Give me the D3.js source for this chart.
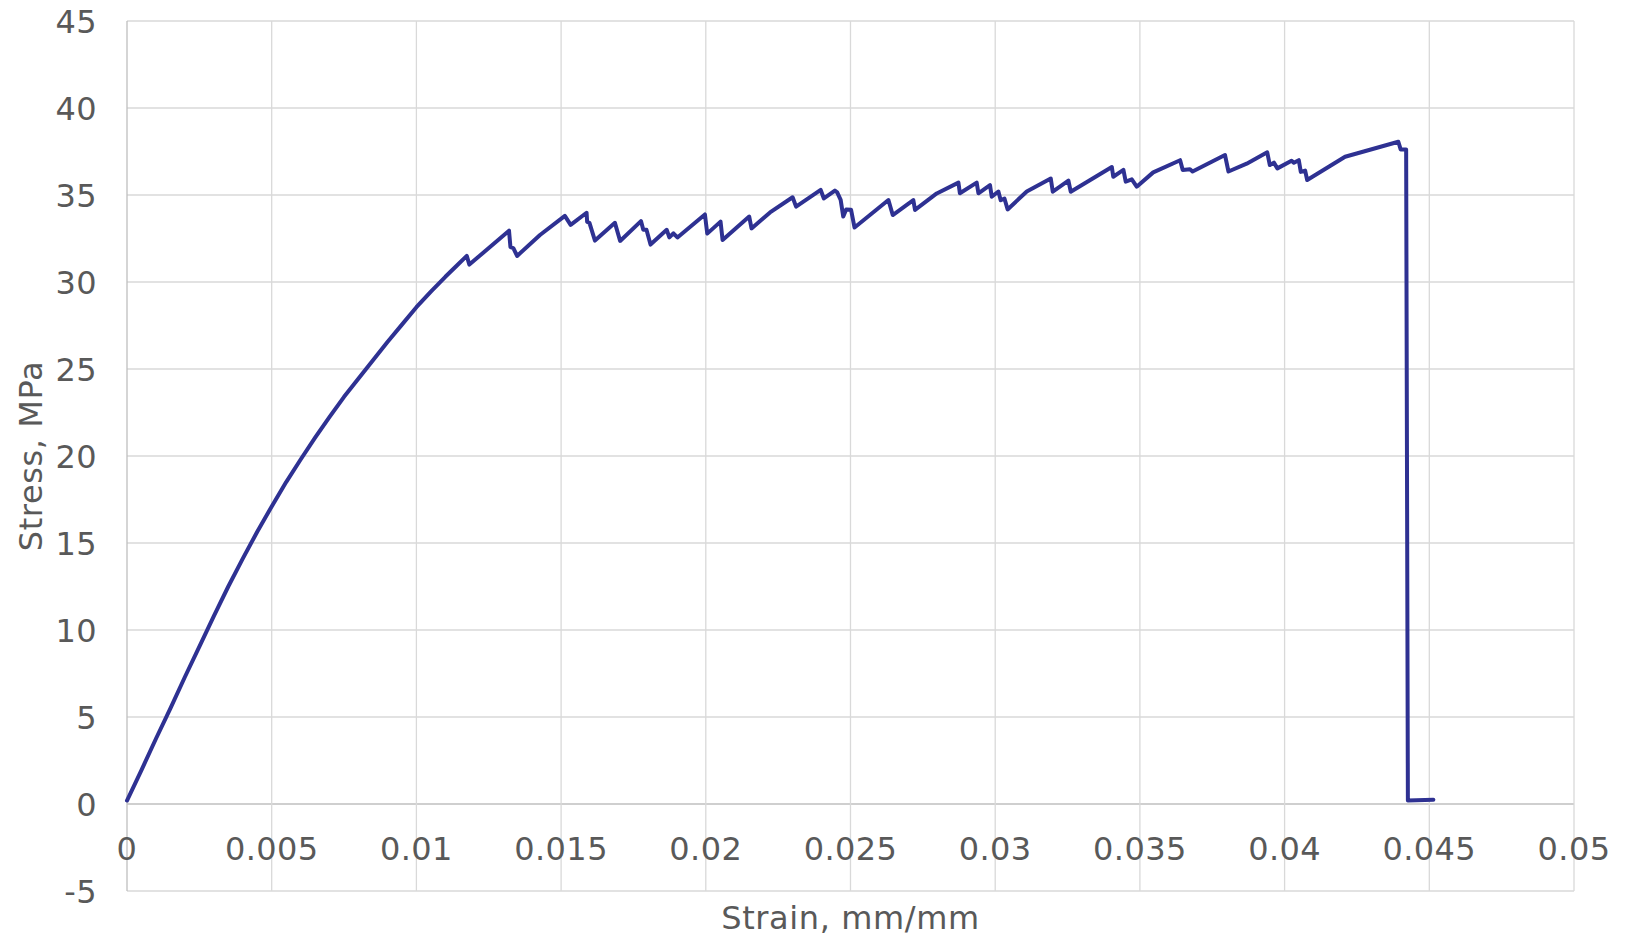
<!DOCTYPE html>
<html>
<head>
<meta charset="utf-8">
<script src="https://cdn.jsdelivr.net/npm/d3@7"></script>
<style>
  html, body { margin: 0; padding: 0; background: #ffffff; }
  svg { display: block; }
</style>
</head>
<body>
<svg id="chart" width="1631" height="938"></svg>
<script>
// ---- data ----
const strain = [
  0, 0.0005, 0.001, 0.0015, 0.002, 0.0025, 0.003, 0.0035, 0.004, 0.0045, 0.005,
  0.0055, 0.006, 0.0065, 0.007, 0.0075, 0.008, 0.0085, 0.009, 0.0095, 0.010,
  0.0105, 0.011, 0.0114,
  0.01174, 0.01183,
  0.0132, 0.01325, 0.01335, 0.01348,
  0.01427, 0.01513, 0.01533, 0.01588, 0.0159, 0.01598, 0.01617,
  0.01686, 0.01704,
  0.01776, 0.01784, 0.01795, 0.01809,
  0.01865, 0.01874, 0.01888, 0.01902,
  0.01997, 0.02005,
  0.02051, 0.02058,
  0.0215, 0.02158,
  0.02222, 0.023, 0.02312,
  0.02397, 0.02408,
  0.02446, 0.02454, 0.02466, 0.02475, 0.02485, 0.02502, 0.02514,
  0.02631, 0.02646,
  0.02717, 0.02723,
  0.02798, 0.02873, 0.02878,
  0.02936, 0.02942,
  0.02982, 0.02988, 0.03011, 0.03019, 0.03032, 0.03043,
  0.03109, 0.03192, 0.03199,
  0.03253, 0.03261,
  0.03403, 0.03408, 0.03443, 0.03451, 0.03472, 0.03489,
  0.03546, 0.03639, 0.03648, 0.03673, 0.03682,
  0.03794, 0.03806,
  0.03869, 0.0394, 0.03949, 0.03963, 0.03975,
  0.04024, 0.04032, 0.04049, 0.04056, 0.04071, 0.04078,
  0.04209, 0.04295, 0.04393, 0.04401, 0.0442, 0.04426,
  0.04514
];
const stress = [
  0.2, 1.95, 3.75, 5.5, 7.3, 9.05, 10.8, 12.5, 14.1, 15.65, 17.1,
  18.5, 19.8, 21.05, 22.25, 23.4, 24.45, 25.5, 26.55, 27.55, 28.55,
  29.45, 30.3, 30.95,
  31.5, 31.0,
  32.95, 32.0, 31.95, 31.5,
  32.7, 33.8, 33.28, 33.98, 33.45, 33.4, 32.38,
  33.4, 32.36,
  33.5, 33.0, 33.0, 32.15,
  33.0, 32.56, 32.8, 32.56,
  33.88, 32.78,
  33.47, 32.41,
  33.76, 33.08,
  34.0, 34.87, 34.33,
  35.29, 34.8,
  35.25, 35.15, 34.72, 33.76, 34.17, 34.15, 33.13,
  34.71, 33.85,
  34.71, 34.14,
  35.09, 35.71, 35.1,
  35.71, 35.1,
  35.57, 34.9, 35.2, 34.7, 34.8, 34.17,
  35.2, 35.95, 35.19,
  35.82, 35.19,
  36.61, 36.05, 36.44, 35.77, 35.9, 35.48,
  36.3, 37.0, 36.44, 36.48, 36.35,
  37.3, 36.35,
  36.8, 37.45, 36.72, 36.86, 36.53,
  36.97, 36.85, 37.0, 36.33, 36.4, 35.86,
  37.2, 37.6, 38.06, 37.62, 37.62, 0.2,
  0.25
];
const xTicks = [0, 0.005, 0.01, 0.015, 0.02, 0.025, 0.03, 0.035, 0.04, 0.045, 0.05];
const xTickLabels = ["0", "0.005", "0.01", "0.015", "0.02", "0.025", "0.03", "0.035", "0.04", "0.045", "0.05"];
const yTicks = [-5, 0, 5, 10, 15, 20, 25, 30, 35, 40, 45];
const yTickLabels = ["-5", "0", "5", "10", "15", "20", "25", "30", "35", "40", "45"];
const xTitle = "Strain, mm/mm";
const yTitle = "Stress, MPa";

// ---- layout ----
const svg = d3.select("#chart");
const mLeft = 127, mRight = 1574, mTop = 21, mBottom = 891;
const x = d3.scaleLinear().domain([0, 0.05]).range([mLeft, mRight]);
const y = d3.scaleLinear().domain([-5, 45]).range([mBottom, mTop]);
const font = "'DejaVu Sans', Verdana, sans-serif";
const textColor = "#595959";
const fs = 32;

// gridlines
const grid = svg.append("g");
grid.selectAll("line.h").data(yTicks).enter().append("line")
  .attr("x1", mLeft).attr("x2", mRight)
  .attr("y1", d => y(d)).attr("y2", d => y(d))
  .attr("stroke", d => d === 0 ? "#bfbfbf" : "#d9d9d9")
  .attr("stroke-width", 1.3);
grid.selectAll("line.v").data(xTicks).enter().append("line")
  .attr("y1", mTop).attr("y2", mBottom)
  .attr("x1", d => x(d)).attr("x2", d => x(d))
  .attr("stroke", d => d === 0 ? "#bfbfbf" : "#d9d9d9")
  .attr("stroke-width", 1.3);

// y tick labels
svg.append("g").selectAll("text").data(yTicks).enter().append("text")
  .attr("x", 97).attr("y", d => y(d)).attr("dy", "0.36em")
  .attr("text-anchor", "end")
  .attr("font-family", font).attr("font-size", fs)
  .attr("letter-spacing", 0.4)
  .attr("fill", textColor)
  .text((d, i) => yTickLabels[i]);

// x tick labels
svg.append("g").selectAll("text").data(xTicks).enter().append("text")
  .attr("x", d => x(d)).attr("y", 860)
  .attr("text-anchor", "middle")
  .attr("font-family", font).attr("font-size", fs)
  .attr("letter-spacing", 0.4)
  .attr("fill", textColor)
  .text((d, i) => xTickLabels[i]);

// titles
svg.append("text")
  .attr("x", (mLeft + mRight) / 2).attr("y", 929)
  .attr("text-anchor", "middle")
  .attr("font-family", font).attr("font-size", fs)
  .attr("letter-spacing", 0.6)
  .attr("fill", textColor)
  .text(xTitle);
svg.append("text")
  .attr("transform", `translate(42, ${(mTop + mBottom) / 2}) rotate(-90)`)
  .attr("text-anchor", "middle")
  .attr("font-family", font).attr("font-size", fs)
  .attr("letter-spacing", 0.6)
  .attr("fill", textColor)
  .text(yTitle);

// curve
const pts = strain.map((s, i) => [s, stress[i]]);
const line = d3.line().x(d => x(d[0])).y(d => y(d[1])).curve(d3.curveLinear);
svg.append("path")
  .datum(pts)
  .attr("d", line)
  .attr("fill", "none")
  .attr("stroke", "#2E3192")
  .attr("stroke-width", 4)
  .attr("stroke-linejoin", "round")
  .attr("stroke-linecap", "round");
</script>
</body>
</html>
